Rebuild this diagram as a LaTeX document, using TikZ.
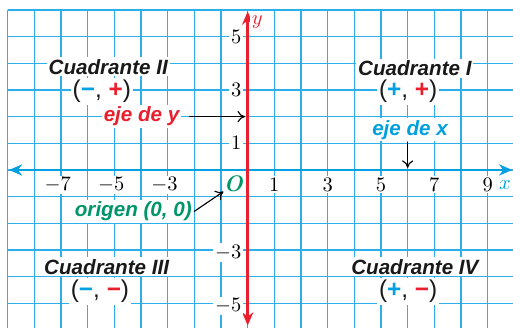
\documentclass[tikz,border=0pt]{standalone}
\usepackage{fontspec}
\newfontfamily\etiq{Liberation Sans}
\usetikzlibrary{arrows.meta}
\definecolor{cuadricula}{RGB}{45,175,235}
\definecolor{ejeazul}{RGB}{0,160,225}
\definecolor{ejerojo}{RGB}{235,30,45}
\definecolor{verde}{RGB}{0,150,105}

\begin{document}
\begin{tikzpicture}[x=0.5cm,y=0.5cm,
  cuad/.style={fill=white, inner sep=1pt, text=black!90, font=\etiq\fontsize{11}{13}\selectfont\bfseries\itshape},
  signos/.style={fill=white, inner sep=1pt, text=black!90, font=\etiq\fontsize{13}{15}\selectfont},
  num/.style={fill=white, inner sep=1pt, font=\fontsize{11}{13}\selectfont},
  flecha/.style={-{To[length=4pt,width=6pt]}, black, line width=0.6pt},
  eje/.style={line width=1.3pt, {Stealth[length=7pt,width=6pt]}-{Stealth[length=7pt,width=6pt]}}]

\useasboundingbox (-9.29,-5.89) rectangle (9.95,6.375);
\clip (-9.29,-5.89) rectangle (9.95,6.375);
\draw[cuadricula, line width=0.6pt, step=0.5cm] (-9,-6) grid (10,6);

\coordinate (xizq) at (-8.95,0);
\coordinate (xder) at (9.92,0);
\coordinate (yabajo) at (0,-5.83);
\coordinate (yarriba) at (0,5.94);
\draw[eje, ejeazul] (xizq) -- (xder);
\draw[eje, ejerojo] (yabajo) -- (yarriba);

\node[num] (xm7) at (-7.12,-0.56) {$-7$};
\node[num] (xm5) at (-5.12,-0.56) {$-5$};
\node[num] (xm3) at (-3.12,-0.56) {$-3$};
\node[num] (xp1) at (1,-0.56) {$1$};
\node[num] (xp3) at (3,-0.56) {$3$};
\node[num] (xp5) at (5,-0.56) {$5$};
\node[num] (xp7) at (7,-0.56) {$7$};
\node[num] (xp9) at (9,-0.56) {$9$};
\node[num, anchor=east] (yp5) at (-0.15,5) {$5$};
\node[num, anchor=east] (yp3) at (-0.15,3) {$3$};
\node[num, anchor=east] (yp1) at (-0.15,1) {$1$};
\node[num, anchor=east] (ym3) at (-0.15,-3.1) {$-3$};
\node[num, anchor=east] (ym5) at (-0.15,-5.1) {$-5$};

\node[num, text=ejeazul] (xletra) at (9.65,-0.56) {$x$};
\node[num, text=ejerojo] (yletra) at (0.36,5.56) {$y$};
\node[text=verde, inner sep=1pt, font=\fontsize{12}{14}\selectfont\bfseries\itshape] (origen) at (-0.54,-0.52) {O};

\node[cuad] (cII) at (-5.23,3.87) {Cuadrante II};
\node[signos] (sII) at (-5.47,2.94) {(\textcolor{ejeazul}{\textbf{−}}, \textcolor{ejerojo}{\textbf{+}})};
\node[cuad] (cI) at (6.27,3.81) {Cuadrante I};
\node[signos] (sI) at (6.02,2.94) {(\textcolor{ejeazul}{\textbf{+}}, \textcolor{ejerojo}{\textbf{+}})};
\node[cuad] (cIII) at (-5.29,-3.63) {Cuadrante III};
\node[signos] (sIII) at (-5.54,-4.56) {(\textcolor{ejeazul}{\textbf{−}}, \textcolor{ejerojo}{\textbf{−}})};
\node[cuad] (cIV) at (6.27,-3.63) {Cuadrante IV};
\node[signos] (sIV) at (6.02,-4.56) {(\textcolor{ejeazul}{\textbf{+}}, \textcolor{ejerojo}{\textbf{−}})};

\node[cuad, text=ejerojo] (ejey) at (-3.98,2) {eje de y};
\coordinate (ejeyfin) at (-0.1,2);
\draw[flecha, shorten <=4pt] (ejey) -- (ejeyfin);

\node[cuad, text=ejeazul] (ejex) at (6.09,1.5) {eje de x};
\coordinate (ejexfin) at (6,0.08);
\draw[flecha] (ejex.south -| ejexfin) -- (ejexfin);

\node[cuad, text=verde] (origentxt) at (-4.29,-1.56) {origen (0, 0)};
\coordinate (origenfin) at (-0.91,-0.81);
\draw[flecha] (origentxt.east) -- (origenfin);
\end{tikzpicture}
\end{document}
